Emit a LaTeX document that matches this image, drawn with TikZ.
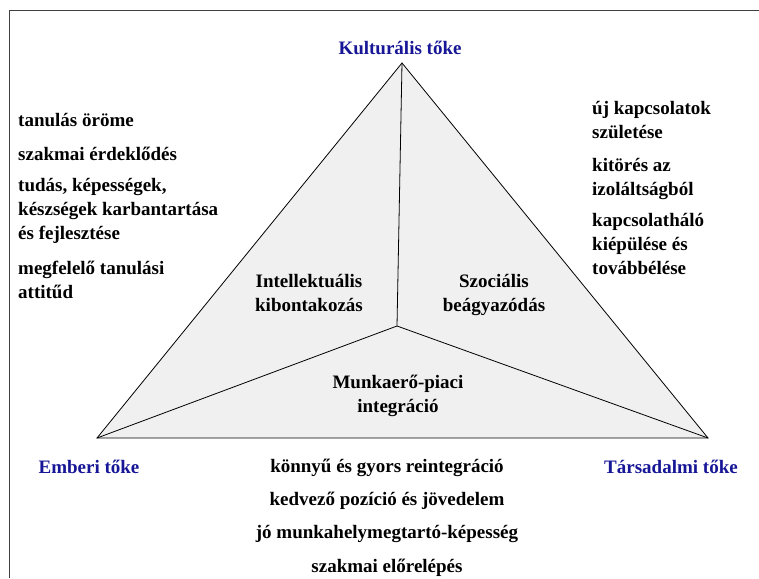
\documentclass[tikz,border=0pt]{standalone}
\usepackage{fontspec}
\setmainfont{Liberation Serif}
\usetikzlibrary{positioning}
\definecolor{tokeblue}{RGB}{22,22,150}
\tikzset{
  txt/.style={font=\fontsize{19}{24}\selectfont\bfseries, inner sep=0pt},
  item/.style={txt, align=left, anchor=north west},
  toke/.style={txt, text=tokeblue, anchor=base},
  field/.style={txt, align=center, anchor=north},
  gain/.style={txt, anchor=base, text height=13pt, text depth=4pt}
}
\begin{document}
\begin{tikzpicture}[x=1pt,y=-1pt]
\useasboundingbox (0,0) rectangle (759,578);
% frame
\draw[line width=1.5pt, black!75] (759,10.5) -- (9.5,10.5) -- (9.5,578);
% triangle
\coordinate (K) at (402,63);
\coordinate (E) at (97,438);
\coordinate (T) at (708,438);
\coordinate (C) at (397,326);
\filldraw[fill=gray!12, draw=black, line width=0.8pt] (K) -- (E) -- (T) -- cycle;
\draw[line width=0.8pt] (K) -- (C) (E) -- (C) (T) -- (C);
% corners
\node[toke] (kult) at (400,55) {Kulturális tőke};
\node[toke] (emb) at (89,473) {Emberi tőke};
\node[toke] (tars) at (671,473) {Társadalmi tőke};
% fields
\node[field] (intel) at (309,274) {Intellektuális\\kibontakozás};
\node[field] (szoc) at (494,274) {Szociális\\beágyazódás};
\node[field] (munka) at (398,375) {Munkaerő-piaci\\integráció};
% left list
\node[item] (l1) at (18,113) {tanulás öröme};
\node[item] (l2) at (18,147) {szakmai érdeklődés};
\node[item] (l3) at (18,178) {tudás, képességek,\\készségek karbantartása\\és fejlesztése};
\node[item] (l4) at (18,261) {megfelelő tanulási\\attitűd};
% right list
\node[item] (r1) at (592,101) {új kapcsolatok\\születése};
\node[item] (r2) at (592,158) {kitörés az\\izoláltságból};
\node[item] (r3) at (592,213) {kapcsolatháló\\kiépülése és\\továbbélése};
% bottom list
\node[gain] (b1) at (387,472) {könnyű és gyors reintegráció};
\node[gain, below=16pt of b1] (b2) {kedvező pozíció és jövedelem};
\node[gain, below=16pt of b2] (b3) {jó munkahelymegtartó-képesség};
\node[gain, below=16pt of b3] (b4) {szakmai előrelépés};
\end{tikzpicture}
\end{document}
